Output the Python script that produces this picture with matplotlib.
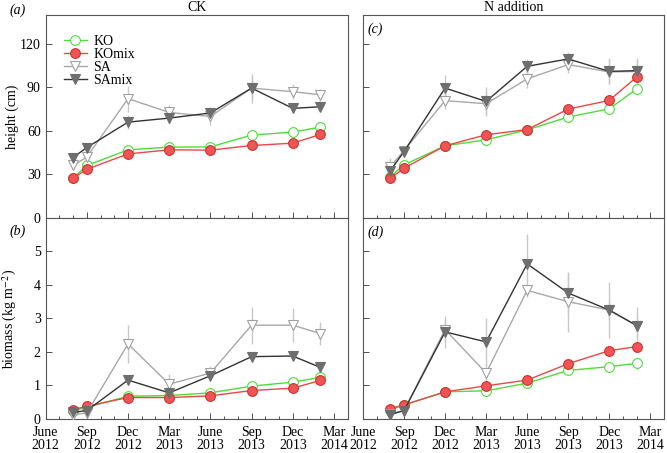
import matplotlib.pyplot as plt
import numpy as np

plt.rcParams['font.family'] = ['Liberation Serif', 'DejaVu Serif']
plt.rcParams['mathtext.fontset'] = 'stix'

# months since June 2012
meses = [2, 3, 6, 9, 12, 15, 18, 20]
rotulos = ["June\n2012", "Sep\n2012", "Dec\n2012", "Mar\n2013", "June\n2013",
           "Sep\n2013", "Dec\n2013", "Mar\n2014"]
series = ["KO", "KOmix", "SA", "SAmix"]

# altura (cm) - CK
alt_ck_KO = [27.5, 36.2, 47.0, 48.9, 49.0, 57.2, 59.2, 62.7]
alt_ck_KOmix = [27.4, 33.6, 44.2, 47.0, 46.8, 50.0, 51.6, 57.6]
alt_ck_SA = [36.2, 42.0, 82.3, 72.8, 70.0, 89.6, 87.1, 85.0]
alt_ck_SAmix = [41.7, 48.6, 66.1, 68.9, 72.4, 89.6, 75.6, 76.7]
erro_alt_ck_KO = [1, 2, 2, 2, 2, 2, 2, 2]
erro_alt_ck_KOmix = [1, 2, 2, 2, 2, 2, 2, 2]
erro_alt_ck_SA = [3, 5, 9, 5, 6, 10, 5, 4]
erro_alt_ck_SAmix = [2, 3, 5, 4, 4, 8, 3, 3]

# altura (cm) - N
alt_n_KO = [28.5, 36.6, 49.8, 53.9, 60.8, 69.6, 75.3, 88.9]
alt_n_KOmix = [27.4, 34.3, 49.8, 57.4, 61.0, 75.1, 81.1, 97.2]
alt_n_SA = [35.5, 46.5, 80.9, 78.8, 95.9, 105.8, 100.7, 101.1]
alt_n_SAmix = [32.7, 45.8, 89.6, 80.4, 104.6, 109.7, 101.1, 101.6]
erro_alt_n_KO = [1, 2, 2, 2, 2, 2, 3, 4]
erro_alt_n_KOmix = [1, 2, 2, 2, 3, 2, 3, 4]
erro_alt_n_SA = [6, 3, 6, 8, 6, 6, 8, 8]
erro_alt_n_SAmix = [4, 3, 9, 10, 5, 5, 9, 9]

# biomassa (kg m-2) - CK
bio_ck_KO = [0.25, 0.35, 0.68, 0.70, 0.78, 0.98, 1.10, 1.24]
bio_ck_KOmix = [0.28, 0.38, 0.64, 0.64, 0.69, 0.85, 0.92, 1.15]
bio_ck_SA = [0.13, 0.18, 2.24, 1.04, 1.37, 2.80, 2.80, 2.55]
bio_ck_SAmix = [0.20, 0.25, 1.16, 0.78, 1.29, 1.86, 1.88, 1.54]
erro_bio_ck_KO = [0.03, 0.04, 0.05, 0.05, 0.05, 0.06, 0.07, 0.08]
erro_bio_ck_KOmix = [0.03, 0.04, 0.05, 0.05, 0.05, 0.06, 0.07, 0.08]
erro_bio_ck_SA = [0.1, 0.1, 0.57, 0.3, 0.2, 0.55, 0.5, 0.35]
erro_bio_ck_SAmix = [0.1, 0.1, 0.15, 0.1, 0.1, 0.1, 0.12, 0.15]

# biomassa (kg m-2) - N
bio_n_KO = [0.27, 0.42, 0.81, 0.84, 1.07, 1.45, 1.56, 1.66]
bio_n_KOmix = [0.31, 0.42, 0.81, 0.99, 1.16, 1.65, 2.04, 2.16]
bio_n_SA = [0.16, 0.25, 2.67, 1.37, 3.84, 3.50, 3.25, 2.79]
bio_n_SAmix = [0.13, 0.25, 2.60, 2.30, 4.63, 3.76, 3.25, 2.79]
erro_bio_n_KO = [0.03, 0.04, 0.05, 0.06, 0.07, 0.1, 0.12, 0.2]
erro_bio_n_KOmix = [0.03, 0.04, 0.05, 0.06, 0.07, 0.1, 0.12, 0.15]
erro_bio_n_SA = [0.05, 0.05, 0.3, 0.3, 0.2, 0.9, 0.3, 0.3]
erro_bio_n_SAmix = [0.05, 0.05, 0.48, 0.7, 0.88, 0.6, 0.84, 0.55]

estilos = {
  "KO": dict(color="#4ddd3a", marker="o", mfc="white", mec="#4ddd3a", lw=1.0),
  "KOmix": dict(color="#e84848", marker="o", mfc="#f05555", mec="#d03030", lw=1.0),
  "SA": dict(color="#a8a8a8", marker="v", mfc="white", mec="#a0a0a0", lw=1.0),
  "SAmix": dict(color="#333333", marker="v", mfc="#6e6e6e", mec="#6e6e6e", lw=1.0),
}

paineis = [
  ([alt_ck_KO, alt_ck_KOmix, alt_ck_SA, alt_ck_SAmix],
   [erro_alt_ck_KO, erro_alt_ck_KOmix, erro_alt_ck_SA, erro_alt_ck_SAmix]),
  ([alt_n_KO, alt_n_KOmix, alt_n_SA, alt_n_SAmix],
   [erro_alt_n_KO, erro_alt_n_KOmix, erro_alt_n_SA, erro_alt_n_SAmix]),
  ([bio_ck_KO, bio_ck_KOmix, bio_ck_SA, bio_ck_SAmix],
   [erro_bio_ck_KO, erro_bio_ck_KOmix, erro_bio_ck_SA, erro_bio_ck_SAmix]),
  ([bio_n_KO, bio_n_KOmix, bio_n_SA, bio_n_SAmix],
   [erro_bio_n_KO, erro_bio_n_KOmix, erro_bio_n_SA, erro_bio_n_SAmix]),
]

fig = plt.figure(figsize=(6.67, 4.53), dpi=100)
posicoes = [
  [0.0684, 0.5188, 0.4529, 0.4481],
  [0.5442, 0.5188, 0.4513, 0.4481],
  [0.0684, 0.0751, 0.4529, 0.4437],
  [0.5442, 0.0751, 0.4513, 0.4437],
]
eixos = [fig.add_axes(p) for p in posicoes]

for i, ax in enumerate(eixos):
  valores, erros = paineis[i]
  for nome, y, e in zip(series, valores, erros):
    ax.errorbar(meses, y, yerr=e, fmt="none", ecolor="#c8c8c8", elinewidth=1.0, capsize=0, zorder=1)
  for nome, y in zip(series, valores):
    ax.plot(meses, y, ms=7, mew=0.8, label=nome, zorder=3, **estilos[nome])
  ax.set_xlim(0, 22)
  ax.set_xticks(range(0, 22, 3))
  ax.set_xticks(range(0, 23), minor=True)
  ax.tick_params(direction="in", length=4, width=0.6, colors="#333333", labelsize=10, labelcolor="black")
  ax.tick_params(axis="x", pad=5)
  ax.tick_params(which="minor", direction="in", length=2, width=0.6, colors="#333333")
  for s in ax.spines.values():
    s.set_color("#555555")
    s.set_linewidth(0.8)
  if i < 2:
    ax.set_ylim(0, 140)
    ax.set_yticks([0, 30, 60, 90, 120])
    ax.set_xticklabels([])
  else:
    ax.set_ylim(0, 6)
    ax.set_yticks([0, 1, 2, 3, 4, 5])
    ax.set_xticklabels(rotulos, linespacing=1.05)
  if i % 2 == 1:
    ax.set_yticklabels([])

eixos[0].set_ylabel("height (cm)", fontsize=10)
eixos[2].set_ylabel("biomass (kg m$^{-2}$)", fontsize=10)
eixos[0].yaxis.set_label_coords(-0.088, 0.5)
eixos[2].yaxis.set_label_coords(-0.088, 0.5)
eixos[0].set_title("CK", fontsize=10, pad=3)
eixos[1].set_title("N addition", fontsize=10, pad=3)

leg = eixos[0].legend(loc="upper left", bbox_to_anchor=(0.062, 0.9), frameon=False, fontsize=10,
                      handlelength=1.6, handletextpad=0.5, labelspacing=0.0, borderpad=0, borderaxespad=0)

fig.text(0.014, 0.993, "(a)", fontsize=10, style="italic", va="top")
fig.text(0.014, 0.505, "(b)", fontsize=10, style="italic", va="top")
eixos[1].text(0.015, 0.965, "(c)", transform=eixos[1].transAxes, fontsize=10, style="italic", va="top")
eixos[3].text(0.015, 0.965, "(d)", transform=eixos[3].transAxes, fontsize=10, style="italic", va="top")

fig.savefig("out.png", dpi=100)
